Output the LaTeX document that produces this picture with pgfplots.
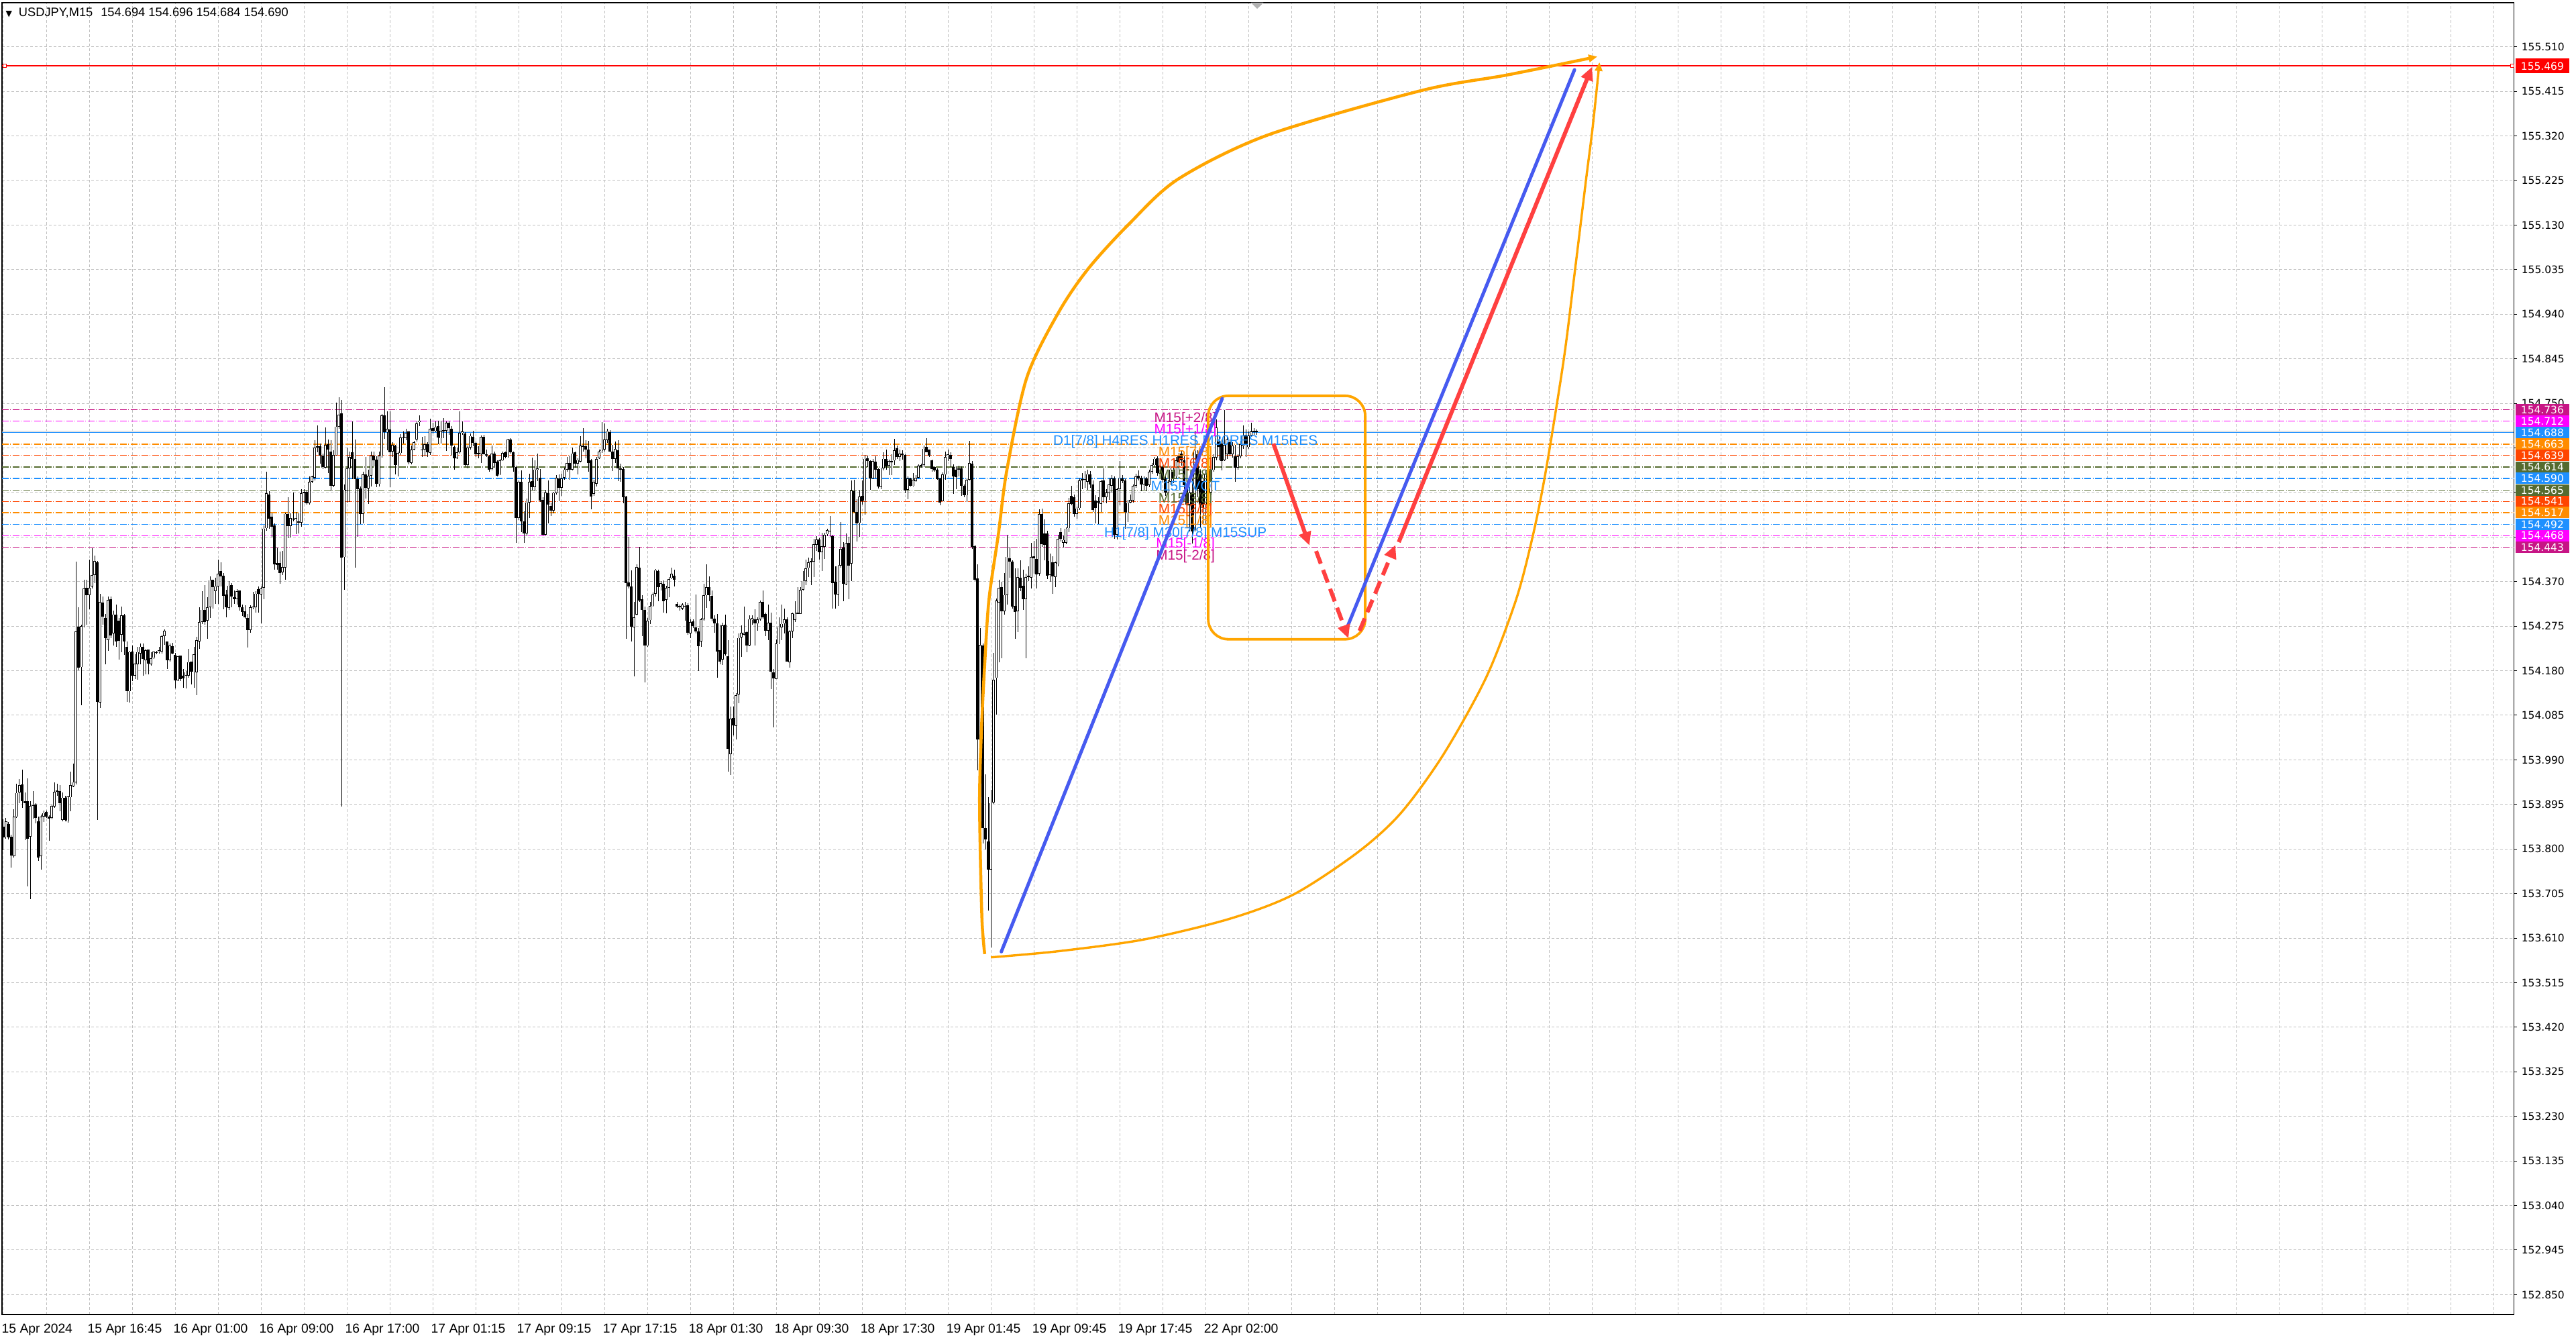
\documentclass[border=0pt]{standalone}
\usepackage{fontspec}
\setmainfont{Liberation Sans}
\newfontfamily\dejavu{DejaVu Sans}
\usepackage{pgfplots}
\pgfplotsset{compat=1.18}
\usepackage{pgfplotstable}
\usetikzlibrary{arrows.meta}

\definecolor{mvr}{RGB}{199,21,133}
\definecolor{mag}{RGB}{255,0,255}
\definecolor{dblue}{RGB}{30,144,255}
\definecolor{dorange}{RGB}{255,140,0}
\definecolor{ored}{RGB}{255,69,0}
\definecolor{olive}{RGB}{85,107,47}
\definecolor{drorange}{RGB}{255,165,0}
\definecolor{drblue}{RGB}{70,90,240}
\definecolor{drred}{RGB}{255,64,64}
\definecolor{gridgray}{RGB}{192,192,192}

\newcommand\timefont{\fontsize{5.5pt}{6pt}\selectfont}
\newcommand\pricefont{\dejavu\fontsize{4.4pt}{5pt}\selectfont}
\newcommand\levfont{\fontsize{5.9pt}{6.5pt}\selectfont}

\tikzset{dd/.style={line width=0.13mm, dash pattern=on 1mm off 0.25mm on 0.1mm off 0.25mm}}

% USDJPY M15 candles: bar index, open, high, low, close
\pgfplotstableread{
i o h l c
0 153.848 153.863 153.797 153.826
1 153.826 153.866 153.822 153.859
2 153.855 153.859 153.822 153.826
3 153.826 153.830 153.760 153.786
4 153.786 153.885 153.782 153.870
5 153.870 153.939 153.866 153.921
6 153.921 153.950 153.899 153.936
7 153.939 153.969 153.888 153.903
8 153.903 153.921 153.819 153.899
9 153.903 153.950 153.720 153.822
10 153.826 153.903 153.694 153.892
11 153.892 153.925 153.866 153.893
12 153.895 153.899 153.855 153.866
13 153.859 153.870 153.775 153.782
14 153.786 153.874 153.757 153.870
15 153.870 153.883 153.859 153.877
16 153.879 153.883 153.866 153.870
17 153.870 153.874 153.819 153.866
18 153.866 153.895 153.863 153.892
19 153.892 153.943 153.888 153.923
20 153.925 153.939 153.914 153.922
21 153.925 153.936 153.881 153.899
22 153.863 153.921 153.859 153.910
23 153.910 153.914 153.859 153.863
24 153.859 153.914 153.857 153.912
25 153.910 153.965 153.881 153.936
26 153.934 153.983 153.932 153.943
27 153.943 154.413 153.939 154.265
28 154.274 154.316 154.181 154.186
29 154.189 154.279 154.107 154.276
30 154.276 154.374 154.272 154.357
31 154.357 154.374 154.279 154.341
32 154.341 154.418 154.312 154.357
33 154.361 154.442 154.356 154.385
34 154.385 154.426 154.367 154.415
35 154.411 154.415 153.863 154.113
36 154.113 154.345 154.102 154.327
37 154.327 154.338 154.279 154.297
38 154.294 154.301 154.193 154.250
39 154.246 154.338 154.223 154.332
40 154.334 154.338 154.250 154.256
41 154.261 154.309 154.234 154.301
42 154.301 154.322 154.232 154.243
43 154.287 154.294 154.205 154.243
44 154.257 154.317 154.221 154.298
45 154.298 154.301 154.214 154.243
46 154.232 154.243 154.113 154.137
47 154.137 154.224 154.113 154.221
48 154.221 154.235 154.159 154.170
49 154.170 154.215 154.162 154.195
50 154.195 154.232 154.162 154.221
51 154.217 154.239 154.195 154.232
52 154.232 154.239 154.170 154.206
53 154.203 154.228 154.173 154.225
54 154.225 154.225 154.173 154.195
55 154.195 154.221 154.192 154.208
56 154.208 154.222 154.206 154.221
57 154.221 154.224 154.217 154.220
58 154.221 154.232 154.217 154.224
59 154.221 154.257 154.217 154.254
60 154.254 154.268 154.235 154.265
61 154.243 154.243 154.184 154.203
62 154.203 154.239 154.200 154.235
63 154.233 154.239 154.215 154.217
64 154.215 154.217 154.142 154.161
65 154.161 154.214 154.159 154.212
66 154.212 154.214 154.159 154.162
67 154.171 154.184 154.144 154.165
68 154.170 154.181 154.144 154.178
69 154.170 154.228 154.166 154.199
70 154.199 154.199 154.151 154.178
71 154.178 154.232 154.144 154.215
72 154.178 154.254 154.129 154.246
73 154.243 154.316 154.228 154.285
74 154.285 154.349 154.279 154.311
75 154.311 154.363 154.279 154.285
76 154.287 154.338 154.249 154.316
77 154.316 154.382 154.294 154.374
78 154.374 154.374 154.312 154.358
79 154.351 154.378 154.323 154.361
80 154.360 154.418 154.323 154.387
81 154.393 154.411 154.360 154.382
82 154.382 154.389 154.312 154.340
83 154.344 154.352 154.294 154.316
84 154.316 154.371 154.309 154.363
85 154.363 154.367 154.316 154.338
86 154.338 154.351 154.323 154.334
87 154.334 154.356 154.323 154.351
88 154.351 154.352 154.309 154.316
89 154.316 154.323 154.298 154.306
90 154.306 154.319 154.290 154.294
91 154.294 154.301 154.230 154.268
92 154.268 154.319 154.261 154.316
93 154.314 154.349 154.312 154.317
94 154.316 154.351 154.305 154.345
95 154.354 154.360 154.305 154.344
96 154.344 154.360 154.281 154.356
97 154.358 154.491 154.334 154.484
98 154.484 154.605 154.480 154.559
99 154.557 154.564 154.484 154.506
100 154.510 154.517 154.466 154.488
101 154.490 154.495 154.396 154.407
102 154.411 154.444 154.396 154.407
103 154.411 154.436 154.368 154.389
104 154.389 154.436 154.385 154.400
105 154.400 154.517 154.374 154.515
106 154.515 154.550 154.462 154.490
107 154.490 154.517 154.466 154.506
108 154.505 154.561 154.499 154.504
109 154.502 154.520 154.473 154.506
110 154.500 154.517 154.473 154.496
111 154.496 154.568 154.488 154.559
112 154.559 154.568 154.537 154.561
113 154.561 154.564 154.534 154.537
114 154.537 154.594 154.535 154.583
115 154.583 154.597 154.581 154.594
116 154.592 154.672 154.586 154.656
117 154.657 154.703 154.646 154.659
118 154.659 154.666 154.623 154.639
119 154.639 154.643 154.610 154.614
120 154.614 154.700 154.612 154.663
121 154.663 154.674 154.602 154.652
122 154.648 154.673 154.564 154.575
123 154.575 154.652 154.573 154.641
124 154.641 154.753 154.639 154.702
125 154.702 154.764 154.696 154.727
126 154.729 154.758 153.892 154.422
127 154.422 154.578 154.354 154.566
128 154.564 154.656 154.539 154.612
129 154.612 154.649 154.542 154.636
130 154.646 154.712 154.588 154.632
131 154.632 154.674 154.400 154.589
132 154.589 154.595 154.466 154.568
133 154.570 154.573 154.493 154.515
134 154.515 154.605 154.495 154.599
135 154.599 154.636 154.548 154.570
136 154.570 154.608 154.535 154.597
137 154.597 154.648 154.573 154.639
138 154.639 154.648 154.616 154.629
139 154.630 154.637 154.572 154.579
140 154.579 154.648 154.573 154.639
141 154.639 154.729 154.636 154.725
142 154.725 154.784 154.674 154.689
143 154.689 154.734 154.651 154.697
144 154.696 154.734 154.572 154.648
145 154.647 154.667 154.636 154.661
146 154.661 154.663 154.599 154.619
147 154.619 154.648 154.595 154.645
148 154.645 154.685 154.641 154.678
149 154.679 154.690 154.665 154.679
150 154.676 154.697 154.673 154.687
151 154.690 154.692 154.621 154.624
152 154.624 154.661 154.621 154.652
153 154.652 154.672 154.651 154.668
154 154.674 154.714 154.670 154.709
155 154.711 154.725 154.703 154.714
156 154.653 154.680 154.636 154.651
157 154.651 154.680 154.637 154.663
158 154.663 154.667 154.636 154.645
159 154.645 154.718 154.641 154.697
160 154.697 154.709 154.685 154.692
161 154.692 154.712 154.689 154.700
162 154.702 154.712 154.663 154.678
163 154.676 154.714 154.665 154.692
164 154.692 154.718 154.676 154.694
165 154.692 154.712 154.648 154.709
166 154.709 154.714 154.685 154.697
167 154.696 154.703 154.639 154.661
168 154.658 154.661 154.610 154.634
169 154.634 154.656 154.632 154.646
170 154.646 154.733 154.643 154.687
171 154.687 154.711 154.683 154.690
172 154.687 154.690 154.617 154.619
173 154.619 154.661 154.612 154.656
174 154.656 154.685 154.651 154.681
175 154.680 154.692 154.660 154.667
176 154.667 154.670 154.636 154.643
177 154.643 154.660 154.634 154.645
178 154.643 154.683 154.624 154.680
179 154.680 154.683 154.641 154.643
180 154.643 154.652 154.636 154.639
181 154.639 154.641 154.605 154.610
182 154.610 154.661 154.608 154.643
183 154.643 154.648 154.614 154.623
184 154.627 154.630 154.595 154.597
185 154.599 154.632 154.597 154.629
186 154.629 154.648 154.627 154.645
187 154.646 154.648 154.634 154.636
188 154.636 154.675 154.634 154.674
189 154.673 154.675 154.643 154.646
190 154.645 154.648 154.605 154.614
191 154.614 154.617 154.453 154.506
192 154.506 154.586 154.502 154.583
193 154.583 154.608 154.477 154.499
194 154.499 154.521 154.453 154.473
195 154.473 154.548 154.469 154.539
196 154.539 154.601 154.507 154.583
197 154.585 154.634 154.564 154.572
198 154.572 154.630 154.564 154.610
199 154.609 154.645 154.586 154.612
200 154.592 154.610 154.541 154.544
201 154.546 154.550 154.468 154.471
202 154.471 154.566 154.468 154.561
203 154.559 154.586 154.495 154.534
204 154.532 154.539 154.510 154.521
205 154.521 154.561 154.515 154.559
206 154.559 154.597 154.556 154.592
207 154.592 154.599 154.541 154.572
208 154.572 154.601 154.553 154.592
209 154.592 154.614 154.588 154.610
210 154.610 154.636 154.605 154.624
211 154.624 154.639 154.588 154.610
212 154.610 154.656 154.607 154.645
213 154.645 154.648 154.614 154.621
214 154.621 154.634 154.599 154.629
215 154.627 154.681 154.624 154.661
216 154.661 154.697 154.648 154.658
217 154.659 154.672 154.634 154.652
218 154.652 154.672 154.605 154.623
219 154.629 154.632 154.524 154.551
220 154.557 154.588 154.554 154.583
221 154.579 154.636 154.573 154.632
222 154.634 154.652 154.632 154.648
223 154.648 154.711 154.645 154.652
224 154.652 154.707 154.648 154.673
225 154.673 154.697 154.667 154.692
226 154.690 154.694 154.646 154.648
227 154.648 154.663 154.607 154.632
228 154.632 154.670 154.624 154.654
229 154.651 154.673 154.585 154.612
230 154.612 154.623 154.583 154.610
231 154.612 154.614 154.537 154.551
232 154.551 154.553 154.249 154.367
233 154.369 154.466 154.356 154.361
234 154.360 154.395 154.243 154.274
235 154.274 154.327 154.168 154.295
236 154.301 154.407 154.298 154.402
237 154.400 154.444 154.327 154.330
238 154.334 154.341 154.254 154.310
239 154.310 154.317 154.155 154.234
240 154.234 154.294 154.232 154.288
241 154.288 154.327 154.281 154.319
242 154.319 154.347 154.317 154.344
243 154.344 154.398 154.339 154.395
244 154.393 154.396 154.329 154.358
245 154.358 154.371 154.351 154.367
246 154.367 154.374 154.305 154.330
247 154.332 154.361 154.303 154.358
248 154.358 154.380 154.338 154.376
249 154.378 154.400 154.376 154.387
250 154.383 154.396 154.360 154.374
251 154.323 154.327 154.314 154.317
252 154.319 154.323 154.310 154.317
253 154.314 154.325 154.310 154.322
254 154.320 154.327 154.287 154.319
255 154.319 154.323 154.256 154.261
256 154.261 154.290 154.250 154.285
257 154.287 154.290 154.272 154.276
258 154.273 154.344 154.261 154.265
259 154.265 154.272 154.181 154.234
260 154.243 154.294 154.232 154.290
261 154.290 154.367 154.287 154.341
262 154.341 154.407 154.314 154.358
263 154.358 154.382 154.329 154.341
264 154.341 154.352 154.287 154.292
265 154.292 154.298 154.261 154.281
266 154.283 154.301 154.166 154.222
267 154.224 154.279 154.195 154.200
268 154.205 154.283 154.192 154.278
269 154.278 154.301 154.213 154.215
270 154.212 154.246 153.965 154.015
271 154.003 154.104 153.958 154.078
272 154.080 154.104 154.042 154.064
273 154.064 154.133 154.034 154.129
274 154.131 154.261 154.111 154.251
275 154.251 154.278 154.210 154.261
276 154.257 154.317 154.256 154.261
277 154.263 154.265 154.221 154.234
278 154.234 154.298 154.232 154.290
279 154.288 154.298 154.279 154.292
280 154.290 154.312 154.234 154.281
281 154.281 154.295 154.266 154.290
282 154.290 154.330 154.287 154.327
283 154.327 154.352 154.292 154.295
284 154.301 154.305 154.254 154.266
285 154.266 154.323 154.246 154.283
286 154.283 154.305 154.142 154.178
287 154.178 154.184 154.060 154.164
288 154.164 154.246 154.162 154.239
289 154.239 154.294 154.237 154.273
290 154.273 154.323 154.246 154.281
291 154.281 154.314 154.261 154.290
292 154.290 154.294 154.199 154.200
293 154.200 154.268 154.188 154.265
294 154.265 154.305 154.251 154.303
295 154.290 154.330 154.285 154.303
296 154.303 154.358 154.301 154.305
297 154.303 154.358 154.301 154.354
298 154.354 154.393 154.351 154.373
299 154.373 154.417 154.363 154.400
300 154.400 154.422 154.380 154.412
301 154.412 154.420 154.363 154.414
302 154.414 154.461 154.380 154.451
303 154.449 154.468 154.436 154.461
304 154.461 154.464 154.418 154.433
305 154.433 154.475 154.393 154.446
306 154.446 154.475 154.418 154.471
307 154.471 154.484 154.468 154.480
308 154.478 154.510 154.466 154.480
309 154.468 154.471 154.314 154.368
310 154.371 154.404 154.314 154.344
311 154.344 154.407 154.319 154.404
312 154.404 154.497 154.400 154.440
313 154.444 154.455 154.329 154.366
314 154.366 154.473 154.363 154.453
315 154.453 154.466 154.334 154.405
316 154.409 154.586 154.371 154.564
317 154.564 154.588 154.517 154.520
318 154.519 154.546 154.456 154.495
319 154.495 154.566 154.466 154.551
320 154.553 154.586 154.534 154.542
321 154.542 154.641 154.513 154.632
322 154.632 154.639 154.614 154.627
323 154.627 154.630 154.566 154.590
324 154.590 154.632 154.588 154.627
325 154.627 154.639 154.592 154.610
326 154.610 154.612 154.570 154.573
327 154.573 154.614 154.568 154.612
328 154.612 154.646 154.608 154.632
329 154.632 154.651 154.608 154.616
330 154.617 154.630 154.597 154.627
331 154.626 154.641 154.597 154.629
332 154.629 154.675 154.619 154.651
333 154.654 154.661 154.632 154.636
334 154.636 154.651 154.627 154.643
335 154.643 154.651 154.630 154.641
336 154.641 154.643 154.561 154.566
337 154.566 154.594 154.546 154.590
338 154.590 154.592 154.573 154.575
339 154.575 154.601 154.573 154.588
340 154.585 154.597 154.583 154.592
341 154.592 154.621 154.590 154.617
342 154.617 154.623 154.614 154.619
343 154.619 154.661 154.614 154.654
344 154.658 154.675 154.645 154.646
345 154.651 154.652 154.636 154.639
346 154.629 154.630 154.605 154.610
347 154.614 154.617 154.605 154.607
348 154.610 154.612 154.588 154.590
349 154.590 154.592 154.534 154.539
350 154.542 154.602 154.541 154.599
351 154.599 154.648 154.588 154.637
352 154.637 154.651 154.627 154.641
353 154.641 154.646 154.614 154.632
354 154.615 154.621 154.558 154.594
355 154.610 154.617 154.568 154.594
356 154.612 154.617 154.594 154.609
357 154.612 154.617 154.553 154.574
358 154.574 154.578 154.551 154.555
359 154.555 154.591 154.542 154.588
360 154.588 154.670 154.586 154.623
361 154.623 154.627 154.440 154.446
362 154.446 154.449 154.372 154.375
363 154.377 154.408 153.968 154.034
364 154.034 154.272 153.998 154.235
365 154.235 154.239 153.812 153.845
366 153.845 153.960 153.800 153.821
367 153.817 153.911 153.669 153.757
368 153.757 153.926 153.591 153.899
369 153.899 154.219 153.897 154.161
370 154.165 154.334 154.087 154.330
371 154.326 154.375 154.198 154.358
372 154.358 154.371 154.207 154.307
373 154.307 154.389 154.301 154.342
374 154.342 154.469 154.321 154.424
375 154.421 154.445 154.379 154.413
376 154.413 154.416 154.313 154.317
377 154.320 154.399 154.248 154.307
378 154.307 154.399 154.264 154.379
379 154.379 154.416 154.350 154.358
380 154.362 154.395 154.309 154.334
381 154.334 154.387 154.207 154.381
382 154.383 154.403 154.372 154.379
383 154.380 154.453 154.356 154.424
384 154.424 154.457 154.387 154.420
385 154.420 154.461 154.356 154.387
386 154.387 154.525 154.383 154.514
387 154.514 154.527 154.445 154.449
388 154.473 154.502 154.416 154.449
389 154.473 154.479 154.375 154.383
390 154.385 154.432 154.372 154.416
391 154.412 154.424 154.344 154.381
392 154.379 154.413 154.358 154.410
393 154.408 154.469 154.403 154.461
394 154.476 154.484 154.455 154.461
395 154.453 154.469 154.443 154.459
396 154.454 154.487 154.451 154.484
397 154.484 154.550 154.477 154.537
398 154.553 154.574 154.533 154.537
399 154.551 154.555 154.509 154.515
400 154.515 154.531 154.504 154.527
401 154.527 154.591 154.523 154.586
402 154.586 154.602 154.568 154.588
403 154.588 154.607 154.572 154.589
404 154.584 154.609 154.566 154.600
405 154.600 154.607 154.572 154.578
406 154.578 154.586 154.520 154.523
407 154.543 154.555 154.494 154.527
408 154.539 154.551 154.494 154.541
409 154.535 154.588 154.520 154.584
410 154.586 154.613 154.539 154.551
411 154.551 154.568 154.537 154.561
412 154.560 154.591 154.545 154.578
413 154.576 154.597 154.560 154.591
414 154.591 154.594 154.461 154.471
415 154.471 154.572 154.461 154.568
416 154.568 154.629 154.535 154.591
417 154.591 154.597 154.580 154.584
418 154.586 154.591 154.484 154.518
419 154.518 154.545 154.498 154.539
420 154.539 154.555 154.537 154.545
421 154.543 154.578 154.539 154.574
422 154.574 154.601 154.572 154.594
423 154.597 154.607 154.586 154.591
424 154.592 154.596 154.564 154.578
425 154.578 154.596 154.568 154.591
426 154.591 154.594 154.564 154.576
427 154.576 154.609 154.572 154.605
428 154.605 154.624 154.601 154.619
429 154.619 154.637 154.615 154.633
430 154.633 154.637 154.596 154.602
431 154.600 154.622 154.590 154.617
432 154.615 154.620 154.582 154.588
433 154.590 154.598 154.553 154.560
434 154.560 154.588 154.551 154.583
435 154.583 154.617 154.576 154.609
436 154.605 154.615 154.580 154.591
437 154.594 154.637 154.591 154.629
438 154.637 154.646 154.609 154.624
439 154.643 154.650 154.617 154.629
440 154.629 154.637 154.568 154.576
441 154.580 154.588 154.502 154.535
442 154.535 154.572 154.477 154.560
443 154.560 154.592 154.453 154.477
444 154.482 154.691 154.477 154.650
445 154.642 154.650 154.551 154.568
446 154.601 154.609 154.486 154.535
447 154.584 154.592 154.494 154.527
448 154.535 154.609 154.494 154.601
449 154.601 154.625 154.555 154.560
450 154.560 154.629 154.555 154.609
451 154.609 154.642 154.605 154.637
452 154.635 154.716 154.629 154.699
453 154.670 154.683 154.629 154.658
454 154.666 154.674 154.609 154.629
455 154.629 154.736 154.627 154.662
456 154.642 154.683 154.633 154.674
457 154.668 154.674 154.637 154.642
458 154.642 154.666 154.633 154.660
459 154.637 154.662 154.584 154.613
460 154.613 154.642 154.609 154.637
461 154.637 154.670 154.633 154.662
462 154.660 154.703 154.654 154.683
463 154.683 154.695 154.637 154.662
464 154.658 154.691 154.654 154.683
465 154.683 154.709 154.679 154.691
466 154.691 154.699 154.684 154.693
467 154.694 154.696 154.684 154.690
}\candles

\begin{document}
\begin{tikzpicture}
\fill[white] (-0.3mm,-3.7mm) rectangle (383.7mm,195.9mm);
\useasboundingbox (-0.3mm,-3.7mm) rectangle (383.7mm,195.9mm);
\begin{axis}[
  at={(0,0)}, anchor=south west,
  width=374.4mm, height=195.5mm, scale only axis,
  xmin=-0.5, xmax=935.5, ymin=152.8076, ymax=155.604,
  clip=false,
  axis line style={black, line width=0.12mm},
  xtick={0,16,...,928}, xticklabels={},
  xtick style={draw=none},
  extra x ticks={0,32,...,448},
  extra x tick labels={15 Apr 2024,15 Apr 16:45,16 Apr 01:00,16 Apr 09:00,16 Apr 17:00,17 Apr 01:15,17 Apr 09:15,17 Apr 17:15,18 Apr 01:30,18 Apr 09:30,18 Apr 17:30,19 Apr 01:45,19 Apr 09:45,19 Apr 17:45,22 Apr 02:00},
  extra x tick style={grid=none, tick label style={anchor=north west, font=\timefont, inner sep=0pt, xshift=-0.3mm, yshift=-0.8mm}},
  ytick={152.850,152.945,153.040,153.135,153.230,153.325,153.420,153.515,153.610,153.705,153.800,153.895,153.990,154.085,154.180,154.275,154.370,154.465,154.560,154.655,154.750,154.845,154.940,155.035,155.130,155.225,155.320,155.415,155.510},
  ytick pos=right, yticklabel pos=right,
  tick align=outside, major tick length=0.5mm,
  ytick style={black, line width=0.1mm},
  scaled y ticks=false,
  yticklabel style={/pgf/number format/fixed, /pgf/number format/fixed zerofill, /pgf/number format/precision=3, /pgf/number format/assume math mode=true, font=\pricefont, anchor=west, inner sep=0pt, xshift=0.6mm},
  grid=major,
  major grid style={gridgray, dash pattern=on 0.4mm off 0.3mm, line width=0.1mm},
]

% level lines
\addplot[red, line width=0.2mm] coordinates {(-0.5,155.469) (935.5,155.469)};
\addplot[red, only marks, mark=square*, mark size=0.25mm, mark options={fill=white, line width=0.1mm}] coordinates {(0.6,155.469) (935,155.469)};
\addplot[mvr, dd] coordinates {(-0.5,154.736) (935.5,154.736)};
\addplot[mag, dd] coordinates {(-0.5,154.712) (935.5,154.712)};
\addplot[gridgray, line width=0.12mm] coordinates {(-0.5,154.691) (935.5,154.691)};
\addplot[dblue, line width=0.15mm] coordinates {(-0.5,154.688) (935.5,154.688)};
\addplot[dorange, dd] coordinates {(-0.5,154.663) (935.5,154.663)};
\addplot[ored, dd] coordinates {(-0.5,154.639) (935.5,154.639)};
\addplot[olive, dd] coordinates {(-0.5,154.614) (935.5,154.614)};
\addplot[dblue, dd] coordinates {(-0.5,154.590) (935.5,154.590)};
\addplot[olive, dd] coordinates {(-0.5,154.565) (935.5,154.565)};
\addplot[ored, dd] coordinates {(-0.5,154.541) (935.5,154.541)};
\addplot[dorange, dd] coordinates {(-0.5,154.517) (935.5,154.517)};
\addplot[dblue, dd] coordinates {(-0.5,154.492) (935.5,154.492)};
\addplot[mag, dd] coordinates {(-0.5,154.468) (935.5,154.468)};
\addplot[mvr, dd] coordinates {(-0.5,154.443) (935.5,154.443)};

% candles: wicks, bodies, hollow bull bodies
\addplot[draw=none, mark=none, error bars/.cd, y dir=both, y explicit, error mark=none,
  error bar style={draw=black, solid, line width=0.1mm}]
  table[x=i, y expr={(\thisrow{h}+\thisrow{l})/2}, y error expr={(\thisrow{h}-\thisrow{l})/2}] {\candles};
\addplot[draw=none, mark=none, error bars/.cd, y dir=both, y explicit, error mark=none,
  error bar style={draw=black, solid, line width=0.32mm}]
  table[x=i, y expr={(\thisrow{o}+\thisrow{c})/2}, y error expr={max(abs(\thisrow{o}-\thisrow{c})/2,0.0006)}] {\candles};
\addplot[draw=none, mark=none, restrict expr to domain={\thisrow{c}-\thisrow{o}}{0.003:10},
  error bars/.cd, y dir=both, y explicit, error mark=none,
  error bar style={draw=white, solid, line width=0.12mm}]
  table[x=i, y expr={(\thisrow{o}+\thisrow{c})/2}, y error expr={(\thisrow{c}-\thisrow{o})/2-0.0011}] {\candles};

% level captions
\node[anchor=north, inner sep=0pt, yshift=-0.3mm, font=\levfont, text=mvr] at (axis cs:440.5,154.736) {M15[+2/8]};
\node[anchor=north, inner sep=0pt, yshift=-0.3mm, font=\levfont, text=mag] at (axis cs:440.5,154.712) {M15[+1/8]};
\node[anchor=north, inner sep=0pt, yshift=-0.3mm, font=\levfont, text=dblue] at (axis cs:440.5,154.688) {D1[7/8] H4RES H1RES M30RES M15RES};
\node[anchor=north, inner sep=0pt, yshift=-0.3mm, font=\levfont, text=dorange] at (axis cs:440.5,154.663) {M15[7/8]};
\node[anchor=north, inner sep=0pt, yshift=-0.3mm, font=\levfont, text=ored] at (axis cs:440.5,154.639) {M15[6/8]};
\node[anchor=north, inner sep=0pt, yshift=-0.3mm, font=\levfont, text=olive] at (axis cs:440.5,154.614) {M15[5/8]};
\node[anchor=north, inner sep=0pt, yshift=-0.3mm, font=\levfont, text=dblue] at (axis cs:440.5,154.590) {M15PIVOT};
\node[anchor=north, inner sep=0pt, yshift=-0.3mm, font=\levfont, text=olive] at (axis cs:440.5,154.565) {M15[3/8]};
\node[anchor=north, inner sep=0pt, yshift=-0.3mm, font=\levfont, text=ored] at (axis cs:440.5,154.541) {M15[2/8]};
\node[anchor=north, inner sep=0pt, yshift=-0.3mm, font=\levfont, text=dorange] at (axis cs:440.5,154.517) {M15[1/8]};
\node[anchor=north, inner sep=0pt, yshift=-0.3mm, font=\levfont, text=dblue] at (axis cs:440.5,154.492) {H1[7/8] M30[7/8] M15SUP};
\node[anchor=north, inner sep=0pt, yshift=-0.3mm, font=\levfont, text=mag] at (axis cs:440.5,154.468) {M15[-1/8]};
\node[anchor=north, inner sep=0pt, yshift=-0.3mm, font=\levfont, text=mvr] at (axis cs:440.5,154.443) {M15[-2/8]};

% drawings
\addplot[drorange, line width=0.38mm, rounded corners=3mm] coordinates {(478,154.766) (507.5,154.766) (507.5,154.247) (449,154.247) (449,154.766) (478,154.766)};
\addplot[drorange, line width=0.45mm, smooth, -{Triangle[length=1.3mm, width=1.1mm]}] coordinates {
  (365.7,153.576) (364.75,153.641) (364.1,153.779) (363.8,153.918) (364.5,154.056)
  (365.7,154.194) (367.3,154.332) (370.8,154.471) (374,154.609) (381.4,154.805)
  (393.15,154.943) (404.3,155.037) (419.45,155.132) (437.8,155.228) (471.25,155.322)
  (528.65,155.417) (560.5,155.450) (594,155.489)};
\addplot[drorange, line width=0.34mm, smooth, -{Triangle[length=1.3mm, width=1.1mm]}] coordinates {
  (368,153.569) (393.1,153.582) (425,153.607) (456.9,153.651) (480.8,153.703)
  (504.75,153.793) (520.7,153.876) (536.6,154.001) (552.6,154.166) (563.75,154.332)
  (570.1,154.471) (574.9,154.609) (581.5,154.844) (585.7,155.035) (589.8,155.227)
  (592.25,155.338) (594.8,155.477)};
\addplot[drblue, line width=0.5mm, line cap=round] coordinates {(371.9,153.581) (454.2,154.760)};
\addplot[drblue, line width=0.5mm, line cap=round] coordinates {(501.1,154.277) (585.5,155.461)};
\addplot[drred, line width=0.6mm, -{Triangle[length=2mm, width=1.8mm]}] coordinates {(473.3,154.664) (486.7,154.447)};
\addplot[drred, line width=0.6mm, dash pattern=on 2mm off 1mm, -{Triangle[length=2mm, width=1.8mm]}] coordinates {(489.2,154.435) (501.25,154.249)};
\addplot[drred, line width=0.6mm, dash pattern=on 2mm off 1mm, -{Triangle[length=2mm, width=1.8mm]}] coordinates {(505.4,154.265) (518.75,154.448)};
\addplot[drred, line width=0.6mm, -{Triangle[length=2mm, width=1.8mm]}] coordinates {(520,154.454) (592,155.467)};

% chart shift marker
\addplot[fill=gray!60, draw=none] coordinates {(464.9,155.604) (469.6,155.604) (467.25,155.591)};

% header
\node[anchor=west, inner sep=0pt, font=\fontsize{5.2pt}{6pt}\selectfont] at (axis cs:0.7,155.5815)
  {{\dejavu\fontsize{3.5pt}{4pt}\selectfont ▼}\hspace{1mm}USDJPY,M15\hspace{1.2mm}154.694 154.696 154.684 154.690};

% price boxes on the scale
\node[fill=red, text=white, font=\pricefont, minimum width=8mm, minimum height=2.2mm, inner sep=0pt, anchor=west] at (axis cs:936,155.469) {155.469};
\node[fill=mvr, text=white, font=\pricefont, minimum width=8mm, minimum height=1.7mm, inner sep=0pt, anchor=west] at (axis cs:936,154.736) {154.736};
\node[fill=mag, text=white, font=\pricefont, minimum width=8mm, minimum height=1.7mm, inner sep=0pt, anchor=west] at (axis cs:936,154.712) {154.712};
\node[fill=dblue, text=white, font=\pricefont, minimum width=8mm, minimum height=1.7mm, inner sep=0pt, anchor=west] at (axis cs:936,154.688) {154.688};
\node[fill=dorange, text=white, font=\pricefont, minimum width=8mm, minimum height=1.7mm, inner sep=0pt, anchor=west] at (axis cs:936,154.663) {154.663};
\node[fill=ored, text=white, font=\pricefont, minimum width=8mm, minimum height=1.7mm, inner sep=0pt, anchor=west] at (axis cs:936,154.639) {154.639};
\node[fill=olive, text=white, font=\pricefont, minimum width=8mm, minimum height=1.7mm, inner sep=0pt, anchor=west] at (axis cs:936,154.614) {154.614};
\node[fill=dblue, text=white, font=\pricefont, minimum width=8mm, minimum height=1.7mm, inner sep=0pt, anchor=west] at (axis cs:936,154.590) {154.590};
\node[fill=olive, text=white, font=\pricefont, minimum width=8mm, minimum height=1.7mm, inner sep=0pt, anchor=west] at (axis cs:936,154.565) {154.565};
\node[fill=ored, text=white, font=\pricefont, minimum width=8mm, minimum height=1.7mm, inner sep=0pt, anchor=west] at (axis cs:936,154.541) {154.541};
\node[fill=dorange, text=white, font=\pricefont, minimum width=8mm, minimum height=1.7mm, inner sep=0pt, anchor=west] at (axis cs:936,154.517) {154.517};
\node[fill=dblue, text=white, font=\pricefont, minimum width=8mm, minimum height=1.7mm, inner sep=0pt, anchor=west] at (axis cs:936,154.492) {154.492};
\node[fill=mag, text=white, font=\pricefont, minimum width=8mm, minimum height=1.7mm, inner sep=0pt, anchor=west] at (axis cs:936,154.468) {154.468};
\node[fill=mvr, text=white, font=\pricefont, minimum width=8mm, minimum height=1.7mm, inner sep=0pt, anchor=west] at (axis cs:936,154.443) {154.443};
\end{axis}
\end{tikzpicture}
\end{document}
